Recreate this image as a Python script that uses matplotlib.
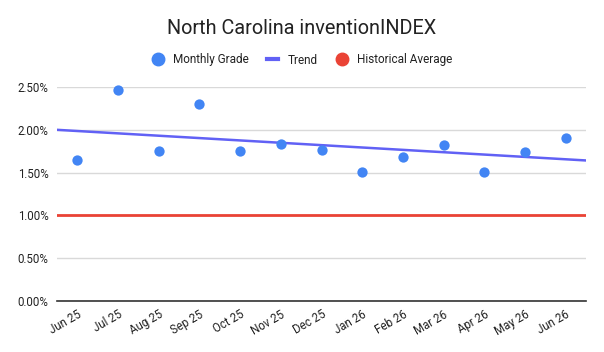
import numpy as np
import matplotlib
matplotlib.use("Agg")
import matplotlib.pyplot as plt
from matplotlib.ticker import FuncFormatter
from matplotlib.lines import Line2D
from matplotlib.transforms import ScaledTranslation

months = ["Jun 25", "Jul 25", "Aug 25", "Sep 25", "Oct 25", "Nov 25", "Dec 25",
          "Jan 26", "Feb 26", "Mar 26", "Apr 26", "May 26", "Jun 26"]
monthly_grade = [1.65, 2.47, 1.75, 2.30, 1.75, 1.83, 1.76, 1.51, 1.68, 1.82, 1.51, 1.74, 1.90]
historical_average = 1.00
yticks = [0.0, 0.5, 1.0, 1.5, 2.0, 2.5]

plt.rcParams['font.family'] = ['Roboto', 'DejaVu Sans']

fig = plt.figure(figsize=(6.04, 3.52), dpi=100)
ax = fig.add_axes([57/604, 1 - 301/352, (586-57)/604, (301-87)/352])

x = np.arange(len(months))
slope, intercept = np.polyfit(x, monthly_grade, 1)
xl = np.array([-0.5, len(months) - 0.5])

blue = '#4285F4'
trend_c = '#6161F5'
red = '#EA4335'

ax.axhline(historical_average, color=red, lw=2, zorder=2)
ax.plot(xl, slope * xl + intercept, color=trend_c, lw=1.8, zorder=3)
ax.scatter(x, monthly_grade, s=55, color=blue, zorder=4, clip_on=False, linewidths=0)

ax.set_xlim(-0.5, len(months) - 0.5)
ax.set_ylim(0, 2.5)
ax.set_yticks(yticks)
ax.yaxis.set_major_formatter(FuncFormatter(lambda v, p: f"{v:.2f}%"))
ax.set_xticks(x)
ax.set_xticklabels(months, rotation=30, ha='right', rotation_mode='anchor')
offset = ScaledTranslation(8/100, 0, fig.dpi_scale_trans)
for lab in ax.get_xticklabels():
    lab.set_transform(lab.get_transform() + offset)
ax.grid(axis='y', color='#d9d9d9', lw=1)
ax.set_axisbelow(True)
for s in ['top', 'right', 'left']:
    ax.spines[s].set_visible(False)
ax.spines['bottom'].set_color('#333333')
ax.spines['bottom'].set_linewidth(1.2)
ax.tick_params(axis='both', length=0, labelsize=8.3, colors='#222222')
ax.tick_params(axis='y', pad=6)
ax.tick_params(axis='x', pad=5)

fig.text(0.5, 1 - 29/352, "North Carolina inventionINDEX", ha='center', va='center',
         fontsize=14.3, color='#222222')

handles = [
    Line2D([], [], marker='o', ls='none', color=blue, markersize=9),
    Line2D([], [], color=trend_c, lw=3),
    Line2D([], [], marker='o', ls='none', color=red, markersize=9),
]
fig.legend(handles, ["Monthly Grade", "Trend", "Historical Average"],
           loc='center', bbox_to_anchor=(0.5, 1 - 60/352), ncol=3, frameon=False,
           fontsize=8.5, handlelength=1.0, handletextpad=0.8, columnspacing=1.5,
           labelcolor='#222222')

fig.savefig("out.png", dpi=100)
